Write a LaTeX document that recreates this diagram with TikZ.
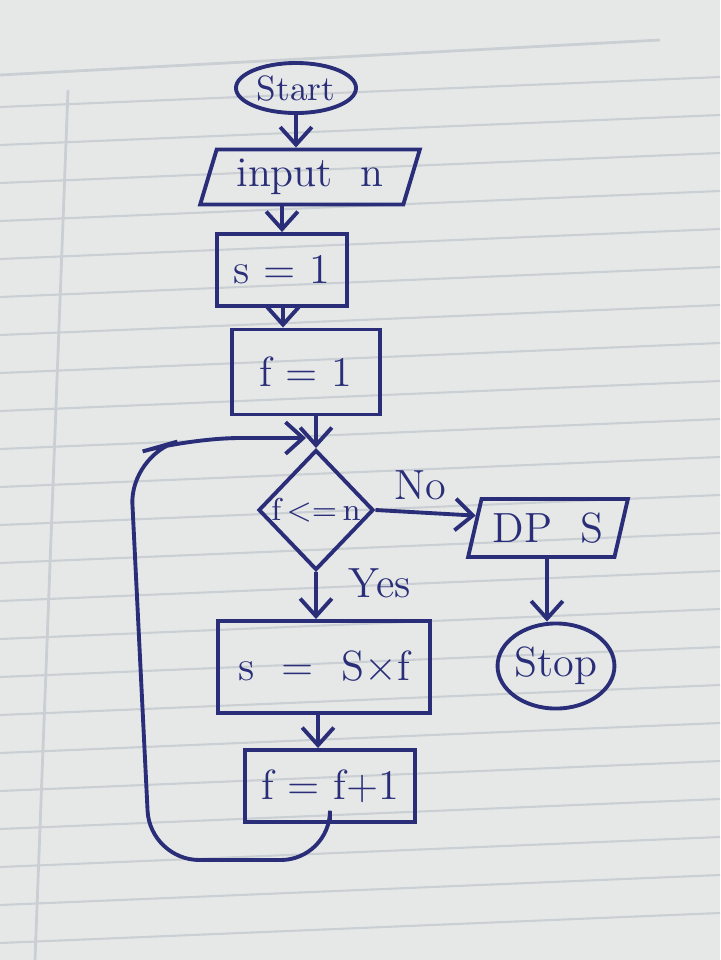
\documentclass[tikz,border=0pt]{standalone}
\usetikzlibrary{shapes.geometric,arrows.meta,calc}
\definecolor{ink}{HTML}{2A2E78}
\definecolor{paper}{HTML}{E6E8E8}
\definecolor{rule}{HTML}{C9CFD2}
\begin{document}
\begin{tikzpicture}[x=0.01cm,y=-0.01cm,
  every node/.style={text=ink,font=\large},
  box/.style={draw=ink,line width=1.1pt,rectangle,inner sep=0pt},
  term/.style={draw=ink,line width=1.1pt,ellipse,inner sep=0pt},
  io/.style={draw=ink,line width=1.1pt,trapezium,trapezium left angle=70,trapezium right angle=110,trapezium stretches=true,inner sep=0pt},
  dec/.style={draw=ink,line width=1.1pt,diamond,inner sep=0pt,aspect=1},
  arr/.style={draw=ink,line width=1.1pt,-{Straight Barb[length=5pt,width=9pt]}},
  lbl/.style={text=ink,font=\large}]
\fill[paper] (0,0) rectangle (720,960);
\useasboundingbox (0,0) rectangle (720,960);
% ruled lines of the notebook
\foreach \yy in {95,133,171,209,247,285,323,361,399,437,475,513,551,589,627,665,703,741,779,817,855,893,931}
  \draw[rule,line width=0.6pt] (0,\yy+12) -- (720,\yy-18);
\draw[rule,line width=0.8pt] (68,90) -- (35,960);
\draw[rule,line width=0.8pt] (0,75) -- (660,40);

\node[term,minimum width=1.2cm,minimum height=0.5cm,font=\normalsize] (start) at (296,88) {Start};
\node[io,minimum width=2.2cm,minimum height=0.55cm] (in) at (310,177) {input \ n};
\node[box,minimum width=1.3cm,minimum height=0.72cm] (s1) at (282,270) {s = 1};
\node[box,minimum width=1.48cm,minimum height=0.85cm] (f1) at (306,372) {f = 1};
\node[dec,minimum width=1.15cm,minimum height=1.2cm] (cond) at (316,510) {};
\node[font=\small,inner sep=0pt] (condtxt) at (cond.center) {f$\,$<=$\,$n};
\node[box,minimum width=2.12cm,minimum height=0.92cm] (s2) at (324,667) {s \ = \ S$\times$f};
\node[box,minimum width=1.7cm,minimum height=0.72cm] (f2) at (330,786) {f = f+1};
\node[io,minimum width=1.6cm,minimum height=0.58cm] (out) at (548,528) {DP \ S};
\node[term,minimum width=1.15cm,minimum height=0.85cm] (stop) at (556,666) {Stop};
\node[lbl] (yes) at (380,583) {Yes};
\node[lbl] (no) at (420,485) {No};

\coordinate (join) at (f1.south |- 0,438);
\coordinate (lb) at (150,860);
\coordinate (lt) at (130,455);
\coordinate (outin) at ($(out.top left corner)!0.3!(out.bottom left corner)$);

\draw[arr] (start) -- (start |- in.north);
\draw[arr] (s1.north |- in.south) -- (s1.north);
\draw[arr] (s1.south -| 283,0) -- (f1.north -| 283,0);
\draw[arr] (f1.south -| cond.north) -- (cond.north);
\draw[arr] (cond.south) -- (s2.north -| cond.south);
\draw[arr] (s2.south -| 318,0) -- (f2.north -| 318,0);
\draw[arr] (cond.east) -- (outin);
\draw[arr] (out.south -| 547,0) -- (stop.north -| 547,0);
\draw[arr,rounded corners=14pt] (f2.south) |- (lb) -- (lt) -- (190,438) -- (join);
\end{tikzpicture}
\end{document}
